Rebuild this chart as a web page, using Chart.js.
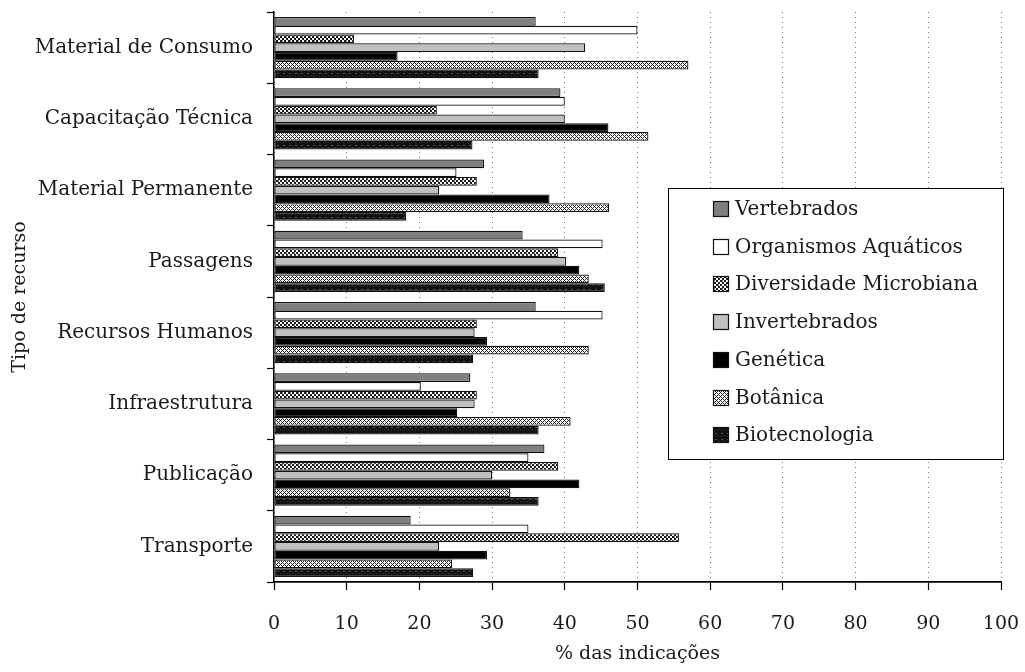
<!DOCTYPE html>
<html>
<head>
<meta charset="utf-8">
<script src="https://cdn.jsdelivr.net/npm/chart.js@4/dist/chart.umd.min.js"></script>
<style>
  html, body { margin: 0; padding: 0; background: #fff; }
  #wrap { width: 1025px; height: 672px; position: relative; }
</style>
</head>
<body>
<div id="wrap"><canvas id="chart-recursos"></canvas></div>
<script>
// Tipo de recurso x % das indicações
const categories = [
    'Material de Consumo',
    'Capacitação Técnica',
    'Material Permanente',
    'Passagens',
    'Recursos Humanos',
    'Infraestrutura',
    'Publicação',
    'Transporte',
];

const seriesNames = [
    'Vertebrados',
    'Organismos Aquáticos',
    'Diversidade Microbiana',
    'Invertebrados',
    'Genética',
    'Botânica',
    'Biotecnologia',
];

const vertebrados = [36, 39.4, 28.9, 34.2, 36, 27, 37.2, 18.8];
const aquaticos = [50, 40, 25.1, 45.2, 45.2, 20.2, 35, 35];
const microbiana = [11, 22.4, 27.9, 39.1, 27.9, 27.9, 39.1, 55.7];
const invertebrados = [42.8, 40, 22.7, 40.2, 27.6, 27.6, 30, 22.7];
const genetica = [17, 46, 37.9, 42, 29.3, 25.2, 42, 29.3];
const botanica = [57, 51.5, 46.1, 43.3, 43.3, 40.8, 32.5, 24.5];
const biotecnologia = [36.4, 27.3, 18.2, 45.5, 27.4, 36.4, 36.4, 27.4];

const xTicks = [0, 10, 20, 30, 40, 50, 60, 70, 80, 90, 100];

const FONT = "'DejaVu Serif', serif";
const TEXT = '#1a1a1a';

// small pixel patterns for the hatched series
function makePattern(size, bg, fg, cells) {
    const c = document.createElement('canvas');
    c.width = size;
    c.height = size;
    const ctx = c.getContext('2d');
    ctx.fillStyle = bg;
    ctx.fillRect(0, 0, size, size);
    cells.forEach(([x, y, col]) => {
        ctx.fillStyle = col || fg;
        ctx.fillRect(x, y, 1, 1);
    });
    return ctx.createPattern(c, 'repeat');
}

const cvs = document.getElementById('chart-recursos');
const ctx0 = cvs.getContext('2d');

// zigzag checker: dark blocks stepping diagonally with a grey edge
const patMicro = (() => {
    const c = document.createElement('canvas');
    c.width = 8; c.height = 8;
    const g = c.getContext('2d');
    g.fillStyle = '#fff';
    g.fillRect(0, 0, 8, 8);
    g.fillStyle = '#1a1a1a';
    g.fillRect(0, 0, 2, 2);
    g.fillRect(2, 2, 2, 2);
    g.fillRect(4, 4, 2, 2);
    g.fillRect(6, 6, 2, 2);
    g.fillRect(4, 0, 2, 2);
    g.fillRect(6, 2, 2, 2);
    g.fillRect(0, 4, 2, 2);
    g.fillRect(2, 6, 2, 2);
    g.fillStyle = '#808080';
    g.fillRect(2, 0, 1, 2);
    g.fillRect(6, 4, 1, 2);
    return ctx0.createPattern(c, 'repeat');
})();

const patBot = makePattern(4, '#fff', '#222', [[0, 0], [1, 1], [3, 1], [2, 2], [1, 3], [3, 3]]);
const patBio = makePattern(6, '#111', '#111', [[1, 1, '#555'], [2, 1, '#555'], [4, 3, '#444'], [1, 4, '#333']]);

const fills = ['#7f7f7f', '#ffffff', patMicro, '#c0c0c0', '#000000', patBot, patBio];
const values = [vertebrados, aquaticos, microbiana, invertebrados, genetica, botanica, biotecnologia];

const datasets = seriesNames.map((name, i) => ({
    label: name,
    data: values[i],
    backgroundColor: fills[i],
    borderColor: '#111',
    borderWidth: 1.2,
    borderSkipped: false,
    barPercentage: 1.0,
    categoryPercentage: 0.86,
}));

// boxed legend drawn inside the plot, right side
const boxLegend = {
    id: 'boxLegend',
    afterDraw(chart) {
        const ctx = chart.ctx;
        const left = 668, top = 188, right = 1003, bottom = 459;
        ctx.save();
        ctx.fillStyle = '#fff';
        ctx.fillRect(left, top, right - left, bottom - top);
        ctx.strokeStyle = '#000';
        ctx.lineWidth = 1;
        ctx.strokeRect(left + 0.5, top + 0.5, right - left, bottom - top);
        ctx.font = '20px ' + FONT;
        ctx.textBaseline = 'middle';
        ctx.textAlign = 'left';
        chart.data.datasets.forEach((ds, i) => {
            const y = Math.round(209 + i * 37.7);
            ctx.fillStyle = ds.backgroundColor;
            ctx.fillRect(713, y - 8, 16, 16);
            ctx.strokeStyle = '#111';
            ctx.lineWidth = 1.2;
            ctx.strokeRect(713.5, y - 7.5, 15, 15);
            ctx.fillStyle = TEXT;
            ctx.fillText(ds.label, 735, y + 1);
        });
        ctx.restore();
    },
};

new Chart(cvs, {
    type: 'bar',
    data: { labels: categories, datasets: datasets },
    options: {
        indexAxis: 'y',
        responsive: true,
        maintainAspectRatio: false,
        animation: false,
        layout: { padding: { top: 12, right: 24, left: 0, bottom: 0 } },
        plugins: {
            legend: { display: false },
            tooltip: { enabled: false },
        },
        scales: {
            x: {
                min: 0,
                max: 100,
                afterBuildTicks: (scale) => { scale.ticks = xTicks.map(v => ({ value: v })); },
                afterFit: (scale) => {
                    scale.height = 90;
                    scale.paddingLeft = 0;
                    scale.paddingRight = 0;
                },
                ticks: {
                    color: TEXT,
                    padding: 23,
                    font: { family: FONT, size: 19 },
                },
                grid: {
                    color: '#777',
                    lineWidth: 1,
                    tickColor: '#000',
                    tickLength: 8,
                    tickWidth: 1.2,
                },
                border: { display: true, color: '#000', width: 1.8, dash: [1, 4] },
                title: {
                    display: true,
                    text: '% das indicações',
                    color: TEXT,
                    font: { family: FONT, size: 19 },
                    padding: { top: 0, bottom: 7 },
                },
            },
            y: {
                afterFit: (scale) => {
                    scale.width = 274;
                    scale.paddingTop = 0;
                    scale.paddingBottom = 0;
                },
                ticks: {
                    color: TEXT,
                    padding: 14,
                    font: { family: FONT, size: 20 },
                },
                grid: {
                    drawOnChartArea: false,
                    tickColor: '#000',
                    tickLength: 7,
                    tickWidth: 1.2,
                },
                border: { display: true, color: '#000', width: 1.5 },
                title: {
                    display: true,
                    text: 'Tipo de recurso',
                    color: TEXT,
                    font: { family: FONT, size: 19 },
                    padding: { top: 9, bottom: 4 },
                },
            },
        },
    },
    plugins: [boxLegend],
});
</script>
</body>
</html>
